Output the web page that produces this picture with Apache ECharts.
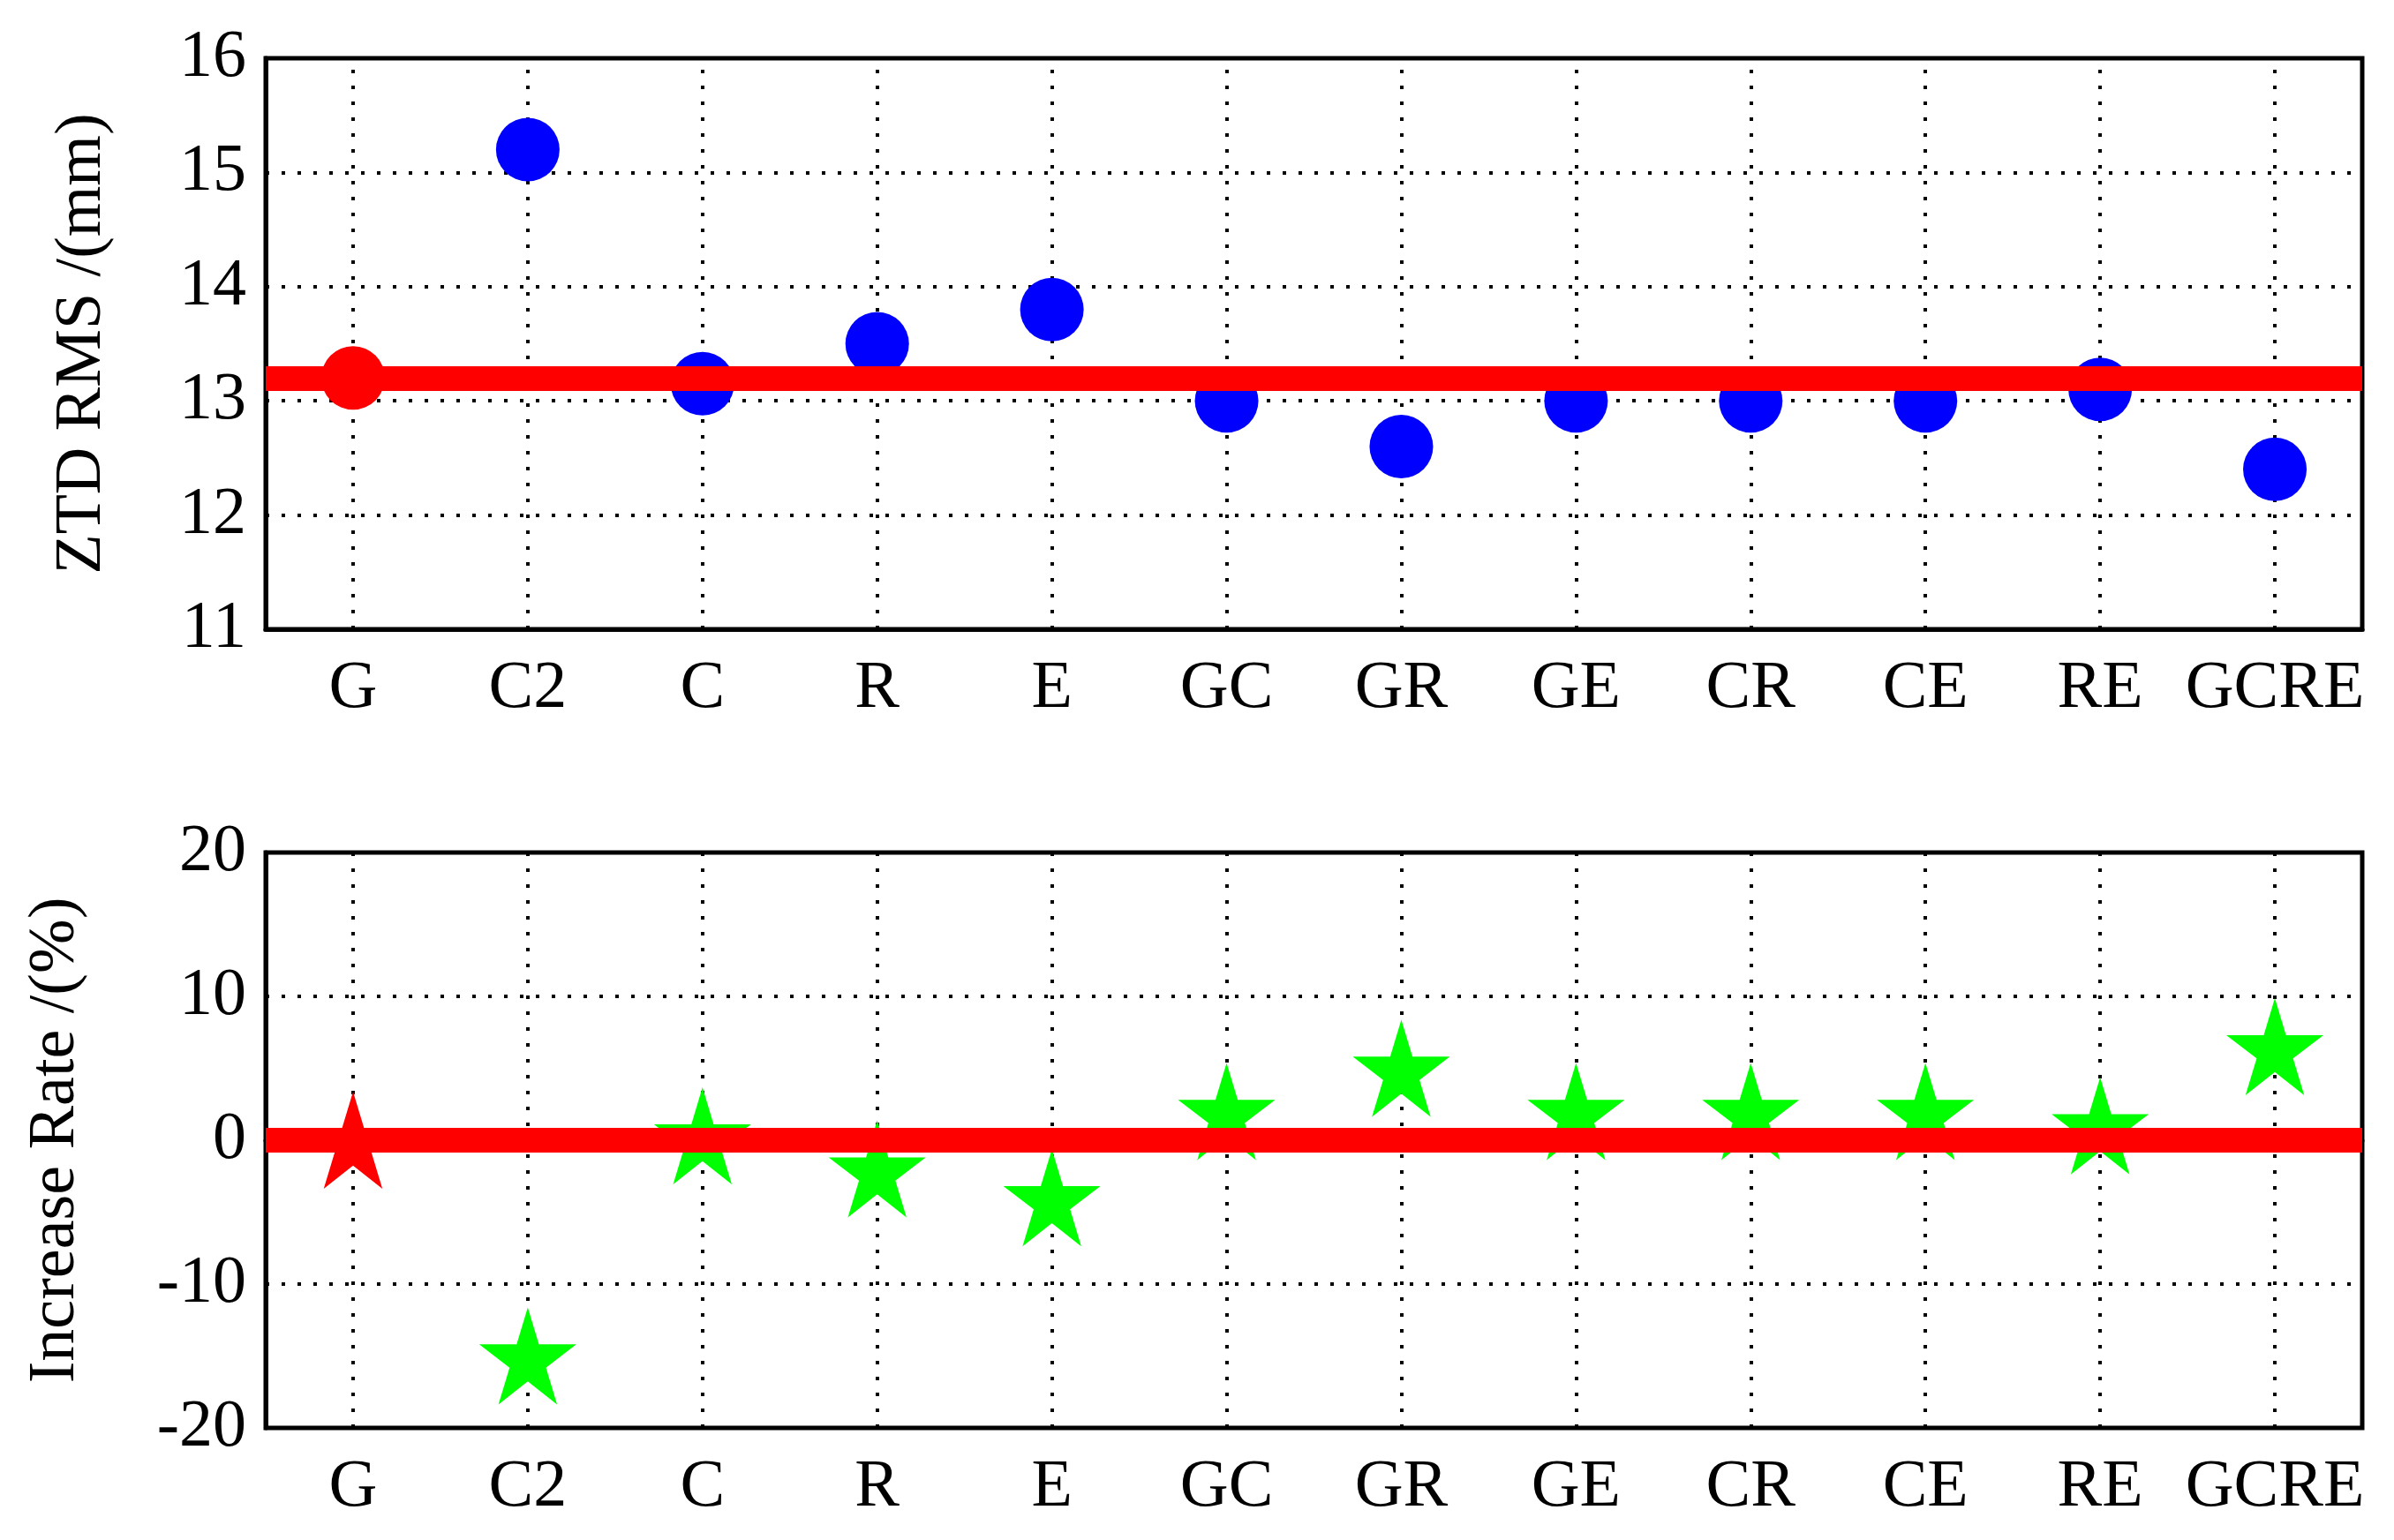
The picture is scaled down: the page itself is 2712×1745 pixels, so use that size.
<!DOCTYPE html>
<html><head><meta charset="utf-8">
<script src="https://cdn.jsdelivr.net/npm/echarts@6/dist/echarts.min.js"></script>
<style>html,body{margin:0;background:#fff}#c{width:2712px;height:1745px}</style>
</head><body><div id="c"></div>
<script>
var categories = ['G', 'C2', 'C', 'R', 'E', 'GC', 'GR', 'GE', 'CR', 'CE', 'RE', 'GCRE'];
var rmsValues = [13.2, 15.2, 13.15, 13.5, 13.8, 13.0, 12.6, 13.0, 13.0, 13.0, 13.1, 12.4];
var rateValues = [0, -15, 0.3, -2, -4, 2, 5, 2, 2, 2, 1, 6.5];
var rmsRef = 13.2;
var rateRef = 0;

var star = 'path://M50,0 L61,35 L98,35 L68,57 L79,92 L50,70 L21,92 L32,57 L2,35 L39,35 Z';
var font = 'Liberation Serif';
var myChart = echarts.init(document.getElementById('c'));

function xAx(i) {
    return {
        type: 'category', gridIndex: i, data: categories, boundaryGap: true,
        axisLine: { lineStyle: { color: '#000', width: 5 } },
        axisTick: { show: false },
        axisLabel: { color: '#000', fontFamily: font, fontSize: 76, margin: 30, interval: 0 },
        splitLine: { show: false }
    };
}
function yAx(i, min, max, step, name) {
    return {
        type: 'value', gridIndex: i, min: min, max: max, interval: step,
        name: name, nameLocation: 'middle', nameGap: i ? 200 : 170,
        nameTextStyle: { color: '#000', fontFamily: font, fontSize: 74 },
        axisLine: { show: true, lineStyle: { color: '#000', width: 5 } },
        axisTick: { show: false },
        axisLabel: { color: '#000', fontFamily: font, fontSize: 76, margin: 22 },
        splitLine: { show: true, lineStyle: { color: '#000', type: [4, 14], width: 4 } }
    };
}
function refLine(v) {
    return { silent: true, symbol: 'none', label: { show: false }, z: 10,
        lineStyle: { color: '#ff0000', width: 28, type: 'solid', opacity: 1 }, data: [{ yAxis: v }] };
}
// vertical dotted grid lines through each category centre
function vLines(i) {
    return { type: 'line', xAxisIndex: i, yAxisIndex: i, data: [], z: 1,
        markLine: { silent: true, symbol: 'none', label: { show: false },
            lineStyle: { color: '#000', type: [4, 14], width: 4, opacity: 1 },
            data: categories.map(function (c) { return { xAxis: c }; }) } };
}

var option = {
    backgroundColor: '#fff',
    animation: false,
    grid: [
        { left: 301, right: 36, top: 66, height: 647, show: true, borderColor: '#000', borderWidth: 5 },
        { left: 301, right: 36, top: 966, height: 652, show: true, borderColor: '#000', borderWidth: 5 }
    ],
    xAxis: [xAx(0), xAx(1)],
    yAxis: [yAx(0, 11, 16, 1, 'ZTD RMS /(mm)'), yAx(1, -20, 20, 10, 'Increase Rate /(%)')],
    series: [
        vLines(0), vLines(1),
        { type: 'scatter', xAxisIndex: 0, yAxisIndex: 0, symbol: 'circle', symbolSize: 72, z: 5,
          data: rmsValues.map(function (v, i) { return { value: v, itemStyle: { opacity: 1, color: i === 0 ? '#ff0000' : '#0000ff' } }; }),
          markLine: refLine(rmsRef) },
        { type: 'scatter', xAxisIndex: 1, yAxisIndex: 1, symbol: star, symbolSize: 110, z: 5,
          data: rateValues.map(function (v, i) { return { value: v, itemStyle: { opacity: 1, color: i === 0 ? '#ff0000' : '#00ff00' } }; }),
          markLine: refLine(rateRef) }
    ]
};
myChart.setOption(option);
</script></body></html>
